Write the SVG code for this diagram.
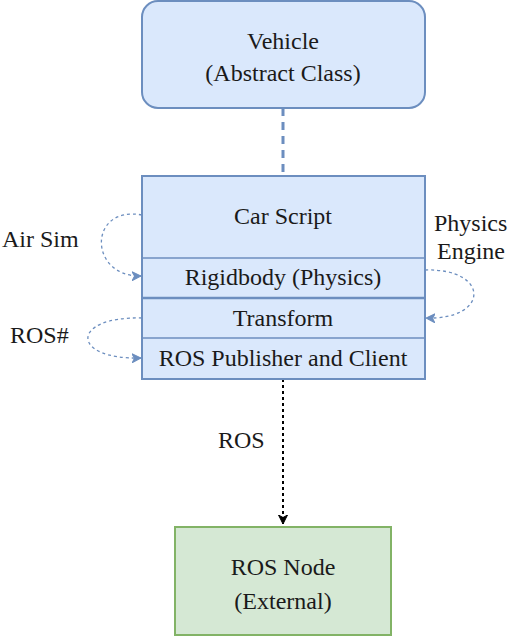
<svg xmlns="http://www.w3.org/2000/svg" width="510" height="636" viewBox="0 0 510 636">
<style>
.blue{fill:#dae8fc;stroke:#6c8ebf;stroke-width:2}
.green{fill:#d5e8d4;stroke:#82b366;stroke-width:2}
text{font-size:24px;fill:#1a1a1a;text-anchor:middle}
.lbl{text-anchor:start}
.curve{fill:none;stroke:#6c8ebf;stroke-width:1.3;stroke-dasharray:3 3}
</style>
<defs>
<marker id="ab" markerWidth="10" markerHeight="10" refX="9" refY="5" orient="auto" markerUnits="userSpaceOnUse">
<path d="M0,0.5 L9,5 L0,9.5 L2.5,5 Z" fill="#6c8ebf" stroke="#6c8ebf" stroke-width="1"/>
</marker>
<marker id="ak" markerWidth="10" markerHeight="10" refX="5" refY="9" orient="0" markerUnits="userSpaceOnUse">
<path d="M0.5,0 L5,9 L9.5,0 L5,2.5 Z" fill="#000" stroke="#000" stroke-width="1"/>
</marker>
</defs>
<g id="connectors">
<line x1="283" y1="108" x2="283" y2="176" stroke="#6c8ebf" stroke-width="3" stroke-dasharray="8 6"/>
<path class="curve" d="M142,215 C88,205 88,277 141,276" marker-end="url(#ab)"/>
<path class="curve" d="M425,270 C490,268 490,320 426,318" marker-end="url(#ab)"/>
<path class="curve" d="M142,318 C70,316 70,360 141,358" marker-end="url(#ab)"/>
<line x1="283" y1="379" x2="283" y2="524" stroke="#000" stroke-width="2" stroke-dasharray="3 3" marker-end="url(#ak)"/>
</g>
<g font-family="'Liberation Serif', 'Tinos', 'DejaVu Serif', serif">
<g id="vehicle">
<rect class="blue" x="142" y="1" width="283" height="107" rx="16"/>
<text x="283" y="49">Vehicle</text>
<text x="283" y="81">(Abstract Class)</text>
</g>
<g id="car">
<rect class="blue" x="142" y="176" width="283" height="203"/>
<line x1="142" y1="258" x2="425" y2="258" stroke="#6c8ebf" stroke-width="1.5"/>
<line x1="142" y1="298" x2="425" y2="298" stroke="#6c8ebf" stroke-width="2.5"/>
<line x1="142" y1="338" x2="425" y2="338" stroke="#6c8ebf" stroke-width="1.5"/>
<text x="283" y="224">Car Script</text>
<text x="283" y="285">Rigidbody (Physics)</text>
<text x="283" y="326">Transform</text>
<text x="283" y="366">ROS Publisher and Client</text>
</g>
<g id="labels">
<text class="lbl" x="2" y="247">Air Sim</text>
<text class="lbl" x="434" y="231">Physics</text>
<text class="lbl" x="437" y="259">Engine</text>
<text class="lbl" x="10" y="343">ROS#</text>
<text class="lbl" x="218" y="448">ROS</text>
</g>
<g id="rosnode">
<rect class="green" x="175" y="527" width="216" height="108"/>
<text x="283" y="575">ROS Node</text>
<text x="283" y="609">(External)</text>
</g>
</g>
</svg>
